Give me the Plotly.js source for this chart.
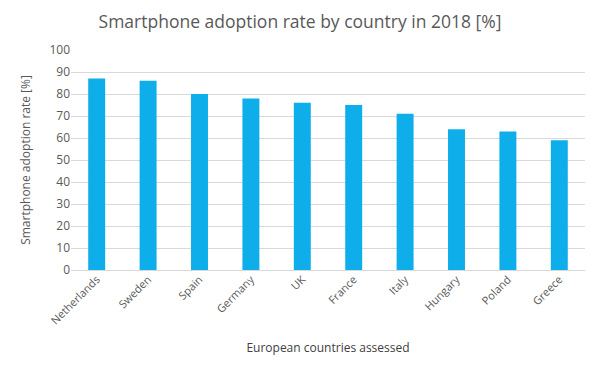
<!DOCTYPE html>
<html>
<head>
<meta charset="utf-8">
<script src="https://cdn.plot.ly/plotly-3.0.1.min.js"></script>
<style>html,body{margin:0;padding:0;background:#fff;}#chart{width:600px;height:365px;}</style>
</head>
<body>
<div id="chart"></div>
<script>
var countries = ["Netherlands","Sweden","Spain","Germany","UK","France","Italy","Hungary","Poland","Greece"];
var adoptionRate = [87,86,80,78,76,75,71,64,63,59];
var yTicks = [0,10,20,30,40,50,60,70,80,90,100];

var trace = {
  type: "bar",
  x: countries,
  y: adoptionRate,
  marker: {color: "#0EAEEA"},
  hoverinfo: "x+y"
};
var layout = {
  width: 600, height: 365,
  margin: {l: 71, r: 15, t: 50, b: 95},
  paper_bgcolor: "#fff", plot_bgcolor: "#fff",
  font: {family: "Open Sans, sans-serif", color: "#595959", size: 11},
  title: {text: "Smartphone adoption rate by country in 2018 [%]", x: 0.5, xanchor: "center", y: 0.94, yanchor: "middle",
          font: {size: 17.5, color: "#595959", family: "Open Sans, sans-serif"}},
  bargap: 0.67,
  showlegend: false,
  xaxis: {
    tickangle: -45, tickfont: {size: 11, color: "#595959"},
    showline: false, ticks: "", showgrid: false,
    title: {text: "European countries assessed", font: {size: 12, color: "#404040"}, standoff: 17}
  },
  yaxis: {
    range: [0, 100], tickvals: yTicks, ticks: "", ticklen: 0,
    tickfont: {size: 12, color: "#595959"},
    showgrid: true, gridcolor: "#D9D9D9", gridwidth: 1,
    zeroline: true, zerolinecolor: "#D9D9D9", zerolinewidth: 1,
    showline: false,
    title: {text: "Smartphone adoption rate [%]", font: {size: 12, color: "#595959"}, standoff: 16}
  }
};
Plotly.newPlot("chart", [trace], layout, {displayModeBar: false, staticPlot: true});
</script>
</body>
</html>
